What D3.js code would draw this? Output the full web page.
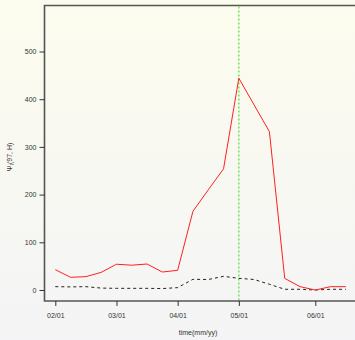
<!DOCTYPE html>
<html><head><meta charset="utf-8">
<script src="https://cdn.jsdelivr.net/npm/d3@7"></script>
<style>html,body{margin:0;padding:0;overflow:hidden;}svg{display:block;}</style>
</head><body>
<svg id="c" width="355" height="340"></svg>
<script>
const weeks = d3.range(20);
const psiRed = [42.6, 26.6, 28, 37, 54, 52, 54.5, 37.7, 41.3, 165, 210, 254, 444, 388, 332, 24.5, 7, 0, 7, 7];
const psiBlack = [7, 6.5, 7, 4, 3.5, 3.5, 3.5, 3, 5, 22.4, 22, 28.6, 24.5, 22, 12, 1.5, 1.5, 0, 1.5, 1.5];
const xTickIdx = [0, 4, 8, 12, 17];
const xTickLabels = ["02/01", "03/01", "04/01", "05/01", "06/01"];
const yTicks = [0, 100, 200, 300, 400, 500];
const markIdx = 12;

(function(){
const svg = d3.select("#c");
const defs = svg.append("defs");
const g = defs.append("linearGradient").attr("id","bg").attr("x1",0).attr("y1",0).attr("x2",0).attr("y2",1);
g.append("stop").attr("offset","0%").attr("stop-color","#fcfcee");
g.append("stop").attr("offset","100%").attr("stop-color","#f4f4f6");
svg.append("rect").attr("width",355).attr("height",340).attr("fill","url(#bg)");

const mL = 44.5, mT = 5.5, mB = 301, mR = 356;
const x = d3.scaleLinear().domain([0,17]).range([55.3, 315.3]);
const y = d3.scaleLinear().domain([0,500]).range([290, 51.5]);

svg.append("path").attr("d",`M${mR},${mT}H${mL}V${mB}H${mR}`)
  .attr("fill","none").attr("stroke","#555").attr("stroke-width",1.6);

const ya = svg.append("g").attr("transform",`translate(${mL},0)`)
  .call(d3.axisLeft(y).tickValues(yTicks).tickSize(5).tickPadding(3));
ya.select(".domain").remove();
ya.selectAll("line").attr("stroke","#333");
ya.selectAll("text").attr("font-family","Liberation Sans, Arial, sans-serif").attr("font-size","7px").attr("fill","#333");

const xa = svg.append("g").attr("transform",`translate(0,${mB})`)
  .call(d3.axisBottom(x).tickValues(xTickIdx).tickFormat((d,i)=>xTickLabels[i]).tickSize(5).tickPadding(7));
xa.select(".domain").remove();
xa.selectAll("line").attr("stroke","#333");
xa.selectAll("text").attr("font-family","Liberation Sans, Arial, sans-serif").attr("font-size","7px").attr("fill","#333");

svg.append("line").attr("x1",x(markIdx)).attr("x2",x(markIdx)).attr("y1",mT+1).attr("y2",mB-1)
  .attr("stroke","#66dd55").attr("stroke-width",1.4).attr("stroke-dasharray","2,2");

const line = d3.line().x((d,i)=>x(weeks[i])).y(d=>y(d));
svg.append("path").datum(psiBlack).attr("d",line).attr("fill","none")
  .attr("stroke","#222").attr("stroke-width",1).attr("stroke-dasharray","3,3");
svg.append("path").datum(psiRed).attr("d",line).attr("fill","none")
  .attr("stroke","#ff2020").attr("stroke-width",1);

svg.append("text").attr("x",198).attr("y",335).attr("text-anchor","middle")
  .attr("font-family","Liberation Sans, Arial, sans-serif").attr("font-size","7px").attr("fill","#333").text("time(mm/yy)");
const yl = svg.append("text").attr("transform","translate(12,157) rotate(-90)").attr("text-anchor","middle")
  .attr("font-family","Liberation Sans, Arial, sans-serif").attr("font-size","7px").attr("fill","#333");
yl.append("tspan").text("Ψ");
yl.append("tspan").attr("font-size","5px").attr("dy","1.5").text("I");
yl.append("tspan").attr("dy","-1.5").text("(97, H)");
})();
</script>
</body></html>
